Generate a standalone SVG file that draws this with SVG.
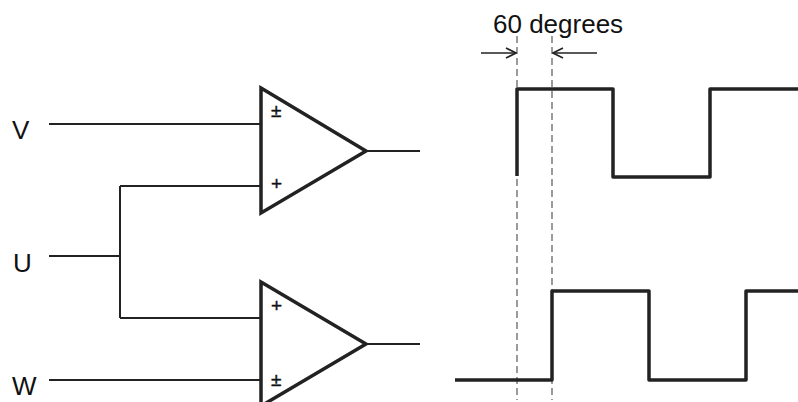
<svg xmlns="http://www.w3.org/2000/svg" width="798" height="402" viewBox="0 0 798 402">
<style>
.amp{fill:none;stroke:#222;stroke-width:3.5;stroke-linejoin:miter}
.wire{fill:none;stroke:#222;stroke-width:2}
.wave{fill:none;stroke:#222;stroke-width:3.5;stroke-linejoin:round}
.dash{fill:none;stroke:#666;stroke-width:1.3;stroke-dasharray:7,4}
.lbl{font-family:"Liberation Sans",Arial,sans-serif;font-size:26px;fill:#111}
.sgn{font-family:"Liberation Sans",Arial,sans-serif;font-size:19px;fill:#111;stroke:#111;stroke-width:0.4}
.arr{fill:none;stroke:#222;stroke-width:1.6}
</style>
<defs>
<marker id="ah" viewBox="0 0 12 12" refX="11" refY="6" markerWidth="12" markerHeight="12" markerUnits="userSpaceOnUse" orient="auto">
<path d="M1,1 L11,6 L1,11" fill="none" stroke="#222" stroke-width="1.6"/>
</marker>
</defs>
<g id="labels">
<text class="lbl" x="12" y="139">V</text>
<text class="lbl" x="13" y="272">U</text>
<text class="lbl" x="12" y="395">W</text>
</g>
<g id="connectors">
<path class="wire" d="M49,124 H261"/>
<path class="wire" d="M49,256 H120 M120,186 V318 M120,186 H261 M120,318 H261"/>
<path class="wire" d="M49,380 H261"/>
<path class="wire" d="M366,151 H420"/>
<path class="wire" d="M366,344 H420"/>
</g>
<g id="amp1">
<path class="amp" d="M261,88 L366,151 L261,213 Z"/>
<text class="sgn" x="271" y="117">±</text>
<text class="sgn" x="271" y="190">+</text>
</g>
<g id="amp2">
<path class="amp" d="M261,282 L366,344 L261,406 Z"/>
<text class="sgn" x="271" y="312">+</text>
<text class="sgn" x="271" y="386">±</text>
</g>
<g id="timing">
<path class="dash" d="M517,36 V400"/>
<path class="dash" d="M552,36 V400"/>
<path class="arr" d="M481,53 H516" marker-end="url(#ah)"/>
<path class="arr" d="M597,53 H553" marker-end="url(#ah)"/>
<text class="lbl" x="493" y="33">60 degrees</text>
<path class="wave" d="M517,176 V89 H613 V177 H710 V89 H798"/>
<path class="wave" d="M455,380 H552 V291 H649 V380 H746 V291 H798"/>
</g>
</svg>
